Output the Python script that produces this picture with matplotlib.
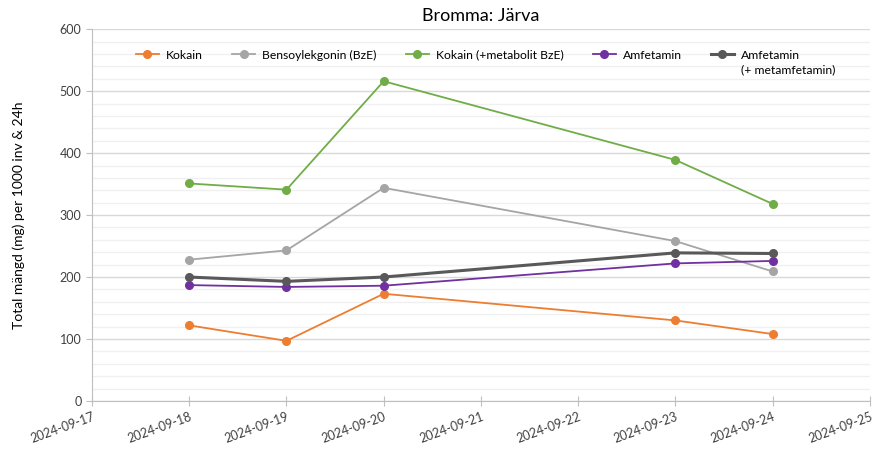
import datetime as dt
import matplotlib
matplotlib.use("Agg")
import matplotlib.pyplot as plt
import matplotlib.dates as mdates
from matplotlib.ticker import MultipleLocator

plt.rcParams['font.family'] = ['Lato', 'DejaVu Sans']

dates = ["2024-09-18", "2024-09-19", "2024-09-20", "2024-09-23", "2024-09-24"]
kokain = [122, 97, 173, 130, 108]
bensoylekgonin = [228, 243, 344, 258, 209]
kokain_bze = [351, 341, 516, 389, 318]
amfetamin = [187, 184, 186, 222, 226]
amfetamin_met = [200, 193, 200, 239, 238]

labels = ["Kokain", "Bensoylekgonin (BzE)", "Kokain (+metabolit BzE)",
          "Amfetamin", "Amfetamin"]
label_extra = "(+ metamfetamin)"
colors = ["#ED7D31", "#A5A5A5", "#70AD47", "#7030A0", "#595959"]
widths = [1.3, 1.3, 1.3, 1.3, 2.2]

x = [dt.datetime.strptime(d, "%Y-%m-%d") for d in dates]

fig = plt.figure(figsize=(8.72, 4.49), dpi=100)
ax = fig.add_axes([0.1055, 0.107, 0.892, 0.828])

series = [kokain, bensoylekgonin, kokain_bze, amfetamin, amfetamin_met]
for vals, lab, col, lw in zip(series, labels, colors, widths):
    ax.plot(x, vals, color=col, lw=lw, marker='o', ms=5.5, label=lab)

ax.set_xlim(dt.datetime(2024, 9, 17), dt.datetime(2024, 9, 25))
ax.set_ylim(0, 600)
ax.xaxis.set_major_locator(mdates.DayLocator())
ax.xaxis.set_major_formatter(mdates.DateFormatter("%Y-%m-%d"))
ax.yaxis.set_major_locator(MultipleLocator(100))
ax.yaxis.set_minor_locator(MultipleLocator(20))

ax.grid(True, which='major', axis='y', color='#D9D9D9', lw=1.0)
ax.grid(True, which='minor', axis='y', color='#F0F0F0', lw=1.0)
ax.set_axisbelow(True)

for s in ['top', 'right']:
    ax.spines[s].set_visible(False)
for s in ['left', 'bottom']:
    ax.spines[s].set_color('#BFBFBF')

ax.tick_params(axis='both', which='major', colors='#BFBFBF', length=4,
               labelcolor='#404040', labelsize=9)
ax.tick_params(axis='y', which='minor', length=0)
ax.tick_params(axis='x', direction='inout', length=7)
plt.setp(ax.get_xticklabels(), rotation=20, ha='right', rotation_mode='anchor')

ax.set_title("Bromma: Järva", fontsize=13, pad=6)
ax.set_ylabel("Total mängd (mg) per 1000 inv & 24h", fontsize=10, labelpad=25)

leg = ax.legend(loc='center left', bbox_to_anchor=(136 / 872, 1 - 55 / 449),
                bbox_transform=fig.transFigure, ncol=5, frameon=False,
                fontsize=8.7, handlelength=1.9, columnspacing=2.4,
                handletextpad=0.6, borderpad=0, borderaxespad=0)

# second line of the last legend label, placed under its first line
fig.canvas.draw()
last = leg.get_texts()[-1]
bb = last.get_window_extent().transformed(fig.transFigure.inverted())
fig.text(bb.x0, bb.y0 - 0.008, label_extra, fontsize=8.7, color=last.get_color(),
         ha='left', va='top')

fig.savefig("out.png", dpi=100)
